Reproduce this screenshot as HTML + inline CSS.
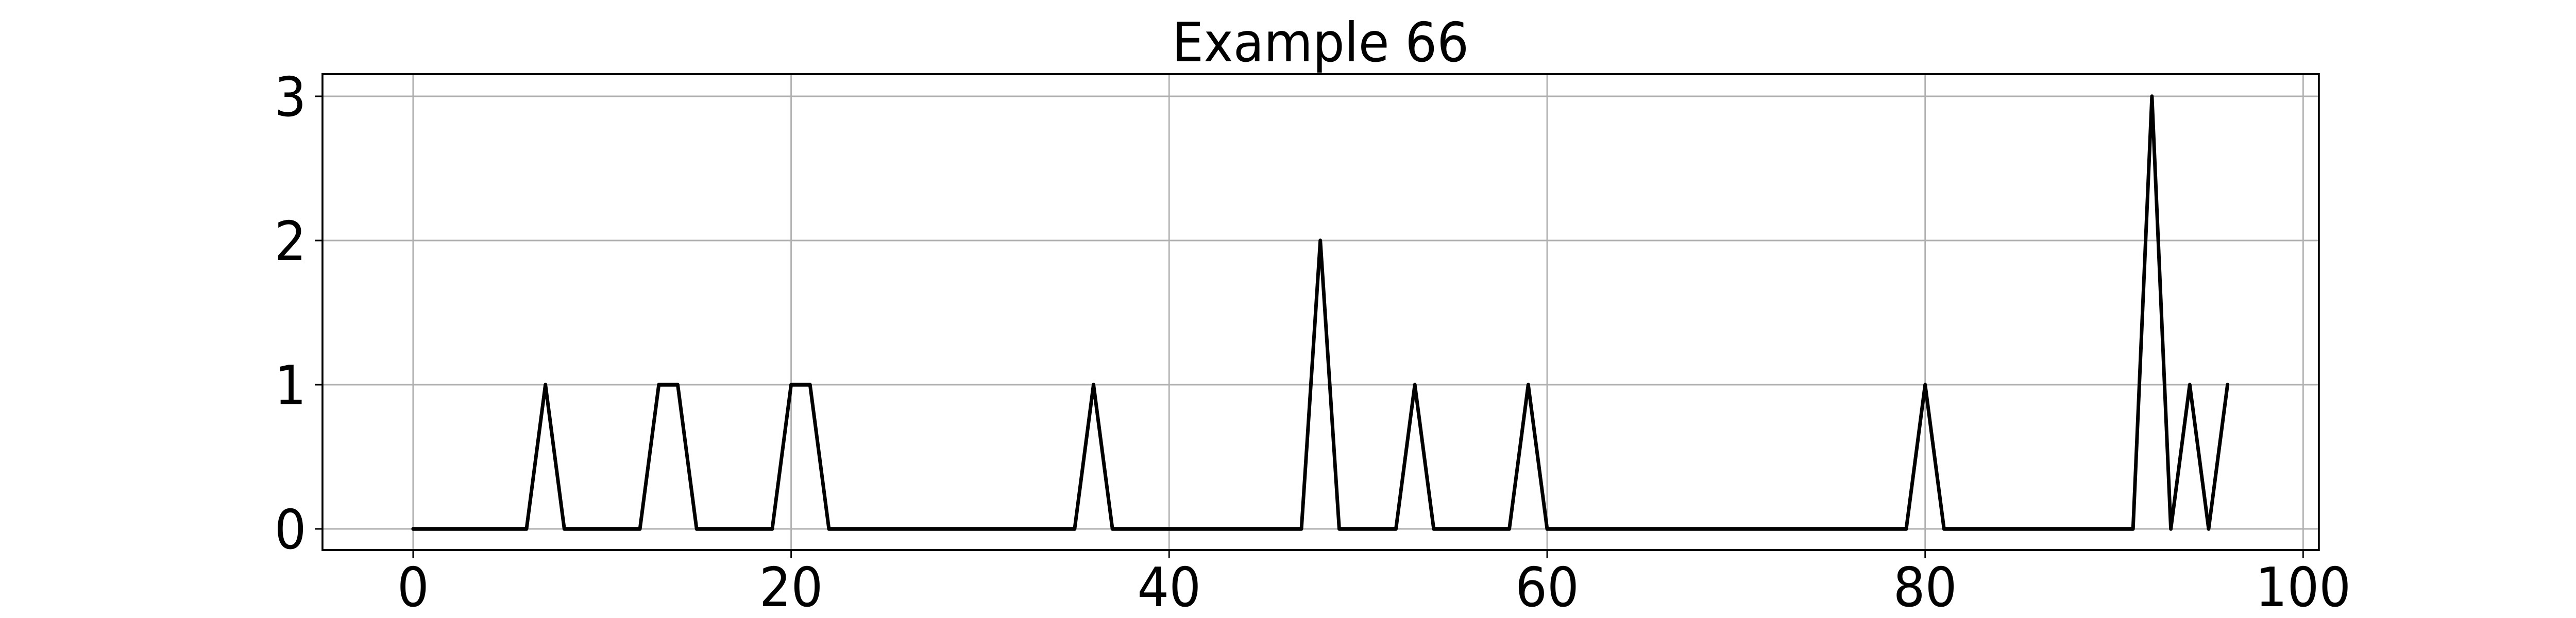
<!DOCTYPE html>
<html><head><meta charset="utf-8"><style>
html,body{margin:0;padding:0;background:#fff;overflow:hidden;width:100%;height:100%;}
svg{display:block;width:100vw;height:100vh;}
text{font-family:"DejaVu Sans","Liberation Sans",sans-serif;fill:#000;}
</style></head><body>
<svg id="chart" viewBox="0 0 5400 1200" preserveAspectRatio="none" xmlns="http://www.w3.org/2000/svg">
<rect width="5400" height="1200" fill="#fff"/>
<text x="2768" y="119" font-size="105" text-anchor="middle">Example 66</text>
<g id="grid"></g>
<g id="series"></g>
<rect x="676" y="144" width="4185" height="924" fill="none" stroke="#000" stroke-width="4"/>
<g id="axes"></g>
</svg>
<script>
const xValues = [0,1,2,3,4,5,6,7,8,9,10,11,12,13,14,15,16,17,18,19,20,21,22,23,24,25,26,27,28,29,30,31,32,33,34,35,36,37,38,39,40,41,42,43,44,45,46,47,48,49,50,51,52,53,54,55,56,57,58,59,60,61,62,63,64,65,66,67,68,69,70,71,72,73,74,75,76,77,78,79,80,81,82,83,84,85,86,87,88,89,90,91,92,93,94,95,96];
const yValues = [0,0,0,0,0,0,0,1,0,0,0,0,0,1,1,0,0,0,0,0,1,1,0,0,0,0,0,0,0,0,0,0,0,0,0,0,1,0,0,0,0,0,0,0,0,0,0,0,2,0,0,0,0,1,0,0,0,0,0,1,0,0,0,0,0,0,0,0,0,0,0,0,0,0,0,0,0,0,0,0,1,0,0,0,0,0,0,0,0,0,0,0,3,0,1,0,1];
const xTicks = [0,20,40,60,80,100];
const yTicks = [0,1,2,3];

const NS = "http://www.w3.org/2000/svg";
function sx(v){ return 866 + (v - 0) * (4828 - 866) / 100; }
function sy(v){ return 1027 - v * 280; }
const L = 676, R = 4861, T = 144, B = 1068;
function mk(tag, attrs, parent){
  const e = document.createElementNS(NS, tag);
  for (const k in attrs) e.setAttribute(k, attrs[k]);
  parent.appendChild(e);
  return e;
}
const grid = document.getElementById('grid');
const axes = document.getElementById('axes');
const series = document.getElementById('series');

xTicks.forEach(t => {
  const g = mk('line', {x1:sx(t), x2:sx(t), y1:T, y2:B, stroke:'#b0b0b0', 'stroke-width':3}, grid);
  
  
  const tk = mk('line', {x1:sx(t), x2:sx(t), y1:B, y2:B+16, stroke:'#000', 'stroke-width':3}, axes);
  
  
  const lb = mk('text', {x:sx(t), y:1177, 'font-size':105, 'text-anchor':'middle'}, axes);
  lb.textContent = t;
  
  
});
yTicks.forEach(t => {
  const g = mk('line', {x1:L, x2:R, y1:sy(t), y2:sy(t), stroke:'#b0b0b0', 'stroke-width':3}, grid);
  
  
  const tk = mk('line', {x1:L-16, x2:L, y1:sy(t), y2:sy(t), stroke:'#000', 'stroke-width':3}, axes);
  
  
  const lb = mk('text', {x:642, y:sy(t)+38, 'font-size':105, 'text-anchor':'end'}, axes);
  lb.textContent = t;
  
  
});
const pts = xValues.map((x,i) => sx(x) + ',' + sy(yValues[i])).join(' ');
const line = mk('polyline', {points:pts, fill:'none', stroke:'#000', 'stroke-width':7.5, 'stroke-linejoin':'round', 'stroke-linecap':'round'}, series);


</script>
</body></html>
